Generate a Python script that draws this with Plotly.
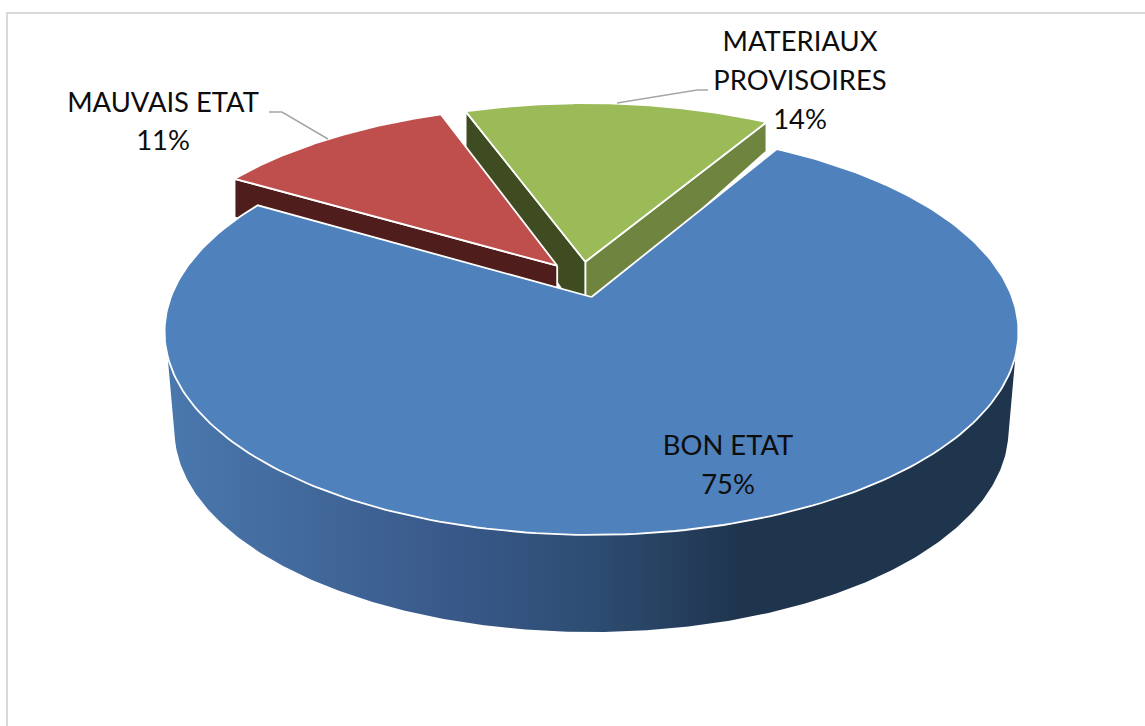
import numpy as np
import plotly.graph_objects as go

categories = ["BON ETAT", "MAUVAIS ETAT", "MATERIAUX PROVISOIRES"]
values = [75, 11, 14]

top_colors = ["#4f81bd", "#be4f4c", "#9bbb59"]
start_deg = 59.6       # clockwise from here, first slice first
explode = 0.094

# projection of the pie's unit circle to the page (perspective)
AX, AY = 591.5, 297.0  # page position of first slice's apex
A, B, K = 420.6, 197.0, 0.172
# lower face
AY2, B2 = 355.0, 229.5
# front wall lower outline
FX, FY, FA, FB = 591.5, 430.0, 417.0, 202.0

W, H = 1145, 726


def proj(X, Y, lower=False, extra=0):
    d = 1 + K * Y
    if lower:
        return AX + A * X / d, AY2 + extra - B2 * Y / d
    return AX + A * X / d, AY - B * Y / d


total = sum(values)
spans = [v / total * 360 for v in values]
starts = [start_deg - sum(spans[:i]) for i in range(len(values))]
ends = [s - sp for s, sp in zip(starts, spans)]
mids = [np.radians((s + e) / 2) for s, e in zip(starts, ends)]
off = [(explode * (np.cos(m) - np.cos(mids[0])), explode * (np.sin(m) - np.sin(mids[0]))) for m in mids]


def wedge(i):
    phi = np.radians(np.linspace(starts[i], ends[i], 240))
    X = np.r_[off[i][0], off[i][0] + np.cos(phi), off[i][0]]
    Y = np.r_[off[i][1], off[i][1] + np.sin(phi), off[i][1]]
    return proj(X, Y)


def cut_wall(i, deg, extra=0):
    p = np.radians(deg)
    X = np.array([off[i][0], off[i][0] + np.cos(p)])
    Y = np.array([off[i][1], off[i][1] + np.sin(p)])
    x1, y1 = proj(X, Y)
    x2, y2 = proj(X, Y, lower=True, extra=extra)
    return np.r_[x1, x2[::-1], x1[0]], np.r_[y1, y2[::-1], y1[0]]


fig = go.Figure()


def poly(x, y, color, lw=1.8, line="white", **kw):
    fig.add_trace(go.Scatter(x=x, y=y, mode="lines", fill="toself", fillcolor=color,
                             line=dict(color=line, width=lw), hoverinfo="skip",
                             showlegend=False, **kw))


# cut walls of the green slice
x, y = cut_wall(2, ends[2])
poly(x, y, "#6f853f")
x, y = cut_wall(2, starts[2], extra=10)
poly(x, y, "#3f4b20")
# red slice
x, y = cut_wall(1, starts[1])
poly(x, y, "#4f1d1c")
x, y = wedge(1)
poly(x, y, top_colors[1])
x, y = wedge(2)
poly(x, y, top_colors[2])

# blue outer wall, with a horizontal gradient
phi = np.radians(np.linspace(196.6, 343.4, 240))
xt, yt = proj(np.cos(phi), np.sin(phi))
tt = np.radians(np.linspace(183, 357, 240))
xb = FX + FA * np.cos(tt)
yb = FY - FB * np.sin(tt)
fig.add_trace(go.Scatter(
    x=np.r_[xt, xb[::-1], xt[0]], y=np.r_[yt, yb[::-1], yt[0]], mode="lines", fill="toself",
    line=dict(width=0, color="rgba(0,0,0,0)"), hoverinfo="skip", showlegend=False,
    fillgradient=dict(type="horizontal", colorscale=[
        [0, "#4a78ad"], [0.33, "#39598a"], [0.5, "#2e4d73"], [0.68, "#1f344d"], [1, "#1f344d"]])))

# blue top
x, y = wedge(0)
poly(x, y, top_colors[0])

# leader lines
lead_x = [[269, 282, 328], [708, 697, 617]]
lead_y = [[112, 112, 139], [90, 90, 103]]
for lx, ly in zip(lead_x, lead_y):
    fig.add_trace(go.Scatter(x=lx, y=ly, mode="lines", line=dict(color="#a6a6a6", width=1.5),
                             hoverinfo="skip", showlegend=False))

# data labels, one entry per printed line
label_lines = [[categories[0], f"{values[0]}%"],
               [categories[1], f"{values[1]}%"],
               ["MATERIAUX", "PROVISOIRES", f"{values[2]}%"]]
label_xs = [728, 163, 800]
label_ys = [[448, 487], [105, 143], [44, 83, 122]]
for lines, lx, lys in zip(label_lines, label_xs, label_ys):
    fig.add_trace(go.Scatter(x=[lx] * len(lines), y=lys, mode="text", text=lines,
                             textposition="middle center",
                             textfont=dict(family="Lato, Carlito, sans-serif", size=27.4, color="#0d0d0d"),
                             hoverinfo="skip", showlegend=False))

# chart frame
fig.add_shape(type="line", x0=7, x1=7, y0=13, y1=H, line=dict(color="#d9d9d9", width=2), layer="below")
fig.add_shape(type="line", x0=6, x1=W, y0=13, y1=13, line=dict(color="#d9d9d9", width=2), layer="below")

fig.update_layout(width=W, height=H, margin=dict(l=0, r=0, t=0, b=0), showlegend=False,
                  plot_bgcolor="white", paper_bgcolor="white",
                  xaxis=dict(range=[0, W], visible=False, fixedrange=True),
                  yaxis=dict(range=[H, 0], visible=False, fixedrange=True))

fig.write_html("out.html", config=dict(displayModeBar=False),
               post_script="document.body.style.margin='0';document.documentElement.style.overflow='hidden';")
